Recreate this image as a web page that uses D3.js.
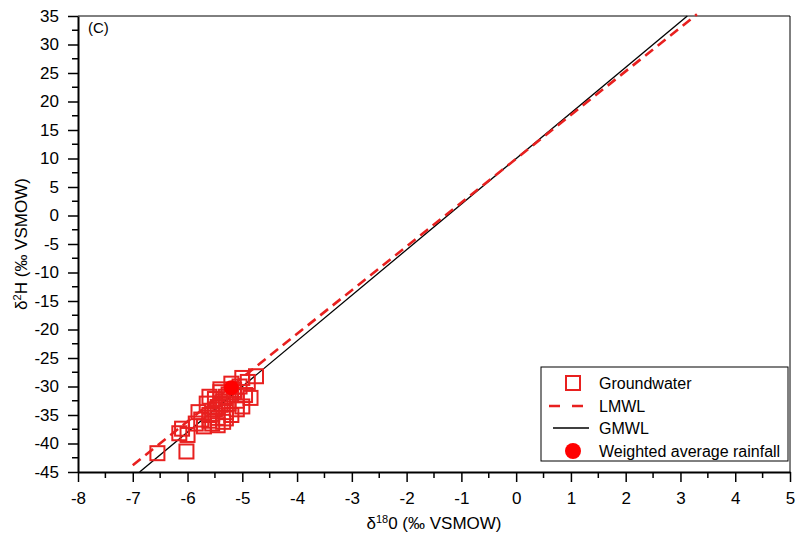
<!DOCTYPE html>
<html>
<head>
<meta charset="utf-8">
<script src="https://cdn.jsdelivr.net/npm/d3@7/dist/d3.min.js"></script>
<style>
  body { margin: 0; background: #fff; }
  text { font-family: "Liberation Sans", Arial, sans-serif; }
</style>
</head>
<body>
<div id="chart"></div>
<script>
// groundwater samples (d18O, d2H)
var gwX = [-6.55, -6.02, -6.15, -6.1, -6.0, -5.85, -5.8, -5.75, -5.7, -5.65, -5.6, -5.55,
           -5.5, -5.5, -5.45, -5.4, -5.4, -5.35, -5.3, -5.3, -5.25, -5.2, -5.15, -5.1,
           -5.05, -5.0, -5.0, -4.95, -4.9, -4.85, -4.75, -5.6, -5.2,
           -5.55, -5.45, -5.35, -5.25, -5.15, -5.45, -5.3, -5.6, -5.1, -5.4];
var gwY = [-41.7, -41.4, -38.2, -37.4, -38.5, -36.5, -34.5, -35.8, -37.0, -33.0, -35.0, -36.5,
           -32.2, -34.0, -35.5, -30.5, -33.2, -36.2, -34.5, -31.8, -33.0, -35.0, -31.0, -32.5,
           -30.0, -33.5, -28.5, -31.5, -29.2, -32.0, -28.2, -36.0, -29.5,
           -34.8, -33.6, -32.6, -31.4, -30.6, -36.8, -35.6, -31.8, -34.0, -31.0];

// weighted average rainfall
var rainX = [-5.2];
var rainY = [-30.2];

// meteoric water lines: [slope, intercept], x extent
var lmwl = [7.68, 9.95];
var lmwlX = [-7, 3.3];
var gmwl = [8, 10];
var gmwlX = [-6.875, 3.125];

var xTicks = [-8, -7, -6, -5, -4, -3, -2, -1, 0, 1, 2, 3, 4, 5];
var yTicks = [35, 30, 25, 20, 15, 10, 5, 0, -5, -10, -15, -20, -25, -30, -35, -40, -45];

var legendLabels = ["Groundwater", "LMWL", "GMWL", "Weighted average rainfall"];

var W = 798, H = 537;
var margin = { top: 16, right: 8, bottom: 65, left: 78 };
var width = W - margin.left - margin.right;
var height = H - margin.top - margin.bottom;

var red = "#e8201f";

var svg = d3.select("#chart").append("svg")
    .attr("width", W)
    .attr("height", H);

var g = svg.append("g")
    .attr("transform", "translate(" + margin.left + "," + margin.top + ")");

var x = d3.scaleLinear().domain([-8, 5]).range([0, width]);
var y = d3.scaleLinear().domain([-45, 35]).range([height, 0]);

// frame top/right
g.append("line").attr("x1", 0).attr("x2", width).attr("y1", 0).attr("y2", 0)
    .attr("stroke", "#000").attr("stroke-width", 1);
g.append("line").attr("x1", width).attr("x2", width).attr("y1", 0).attr("y2", height)
    .attr("stroke", "#000").attr("stroke-width", 1);

// minor ticks
var xMinor = d3.range(-7.5, 5, 1);
var yMinor = d3.range(-42.5, 35, 5);

g.selectAll(".xminor").data(xMinor).enter().append("line")
    .attr("x1", d => x(d)).attr("x2", d => x(d))
    .attr("y1", height).attr("y2", height + 6)
    .attr("stroke", "#000").attr("stroke-width", 1.5);

g.selectAll(".yminor").data(yMinor).enter().append("line")
    .attr("x1", -6).attr("x2", 0)
    .attr("y1", d => y(d)).attr("y2", d => y(d))
    .attr("stroke", "#000").attr("stroke-width", 1.5);

// axes (plain hyphen for negatives)
var fmt = d => String(d);
var xAxis = g.append("g")
    .attr("transform", "translate(0," + height + ")")
    .call(d3.axisBottom(x).tickValues(xTicks).tickFormat(fmt)
        .tickSize(10).tickSizeOuter(0).tickPadding(10));

var yAxis = g.append("g")
    .call(d3.axisLeft(y).tickValues(yTicks).tickFormat(fmt)
        .tickSize(10).tickSizeOuter(0).tickPadding(9));

[xAxis, yAxis].forEach(function(a) {
    a.select(".domain").attr("stroke-width", 2);
    a.selectAll(".tick line").attr("stroke-width", 1.5);
    a.selectAll("text").style("font-size", "17px").attr("fill", "#000")
        .style("font-family", "'Liberation Sans', Arial, sans-serif");
});

// lines
g.append("line")
    .attr("x1", x(gmwlX[0])).attr("y1", y(gmwl[0] * gmwlX[0] + gmwl[1]))
    .attr("x2", x(gmwlX[1])).attr("y2", y(gmwl[0] * gmwlX[1] + gmwl[1]))
    .attr("stroke", "#000").attr("stroke-width", 1.3);

g.append("line")
    .attr("x1", x(lmwlX[0])).attr("y1", y(lmwl[0] * lmwlX[0] + lmwl[1]))
    .attr("x2", x(lmwlX[1])).attr("y2", y(lmwl[0] * lmwlX[1] + lmwl[1]))
    .attr("stroke", red).attr("stroke-width", 2.6)
    .attr("stroke-dasharray", "10,6");

// groundwater squares
var sq = 14;
var gw = gwX.map((d, i) => ({ x: d, y: gwY[i] }));
g.selectAll(".gw").data(gw).enter().append("rect")
    .attr("x", d => x(d.x) - sq / 2)
    .attr("y", d => y(d.y) - sq / 2)
    .attr("width", sq).attr("height", sq)
    .attr("fill", "none")
    .attr("stroke", red).attr("stroke-width", 2);

// rainfall point
g.selectAll(".rain").data(rainX).enter().append("circle")
    .attr("cx", d => x(d))
    .attr("cy", (d, i) => y(rainY[i]))
    .attr("r", 7.5)
    .attr("fill", "#ff0000");

// panel label
g.append("text").attr("x", 10).attr("y", 17)
    .style("font-size", "15px").text("(C)");

// axis titles
svg.append("text")
    .attr("x", margin.left + width / 2).attr("y", 529)
    .attr("text-anchor", "middle").style("font-size", "17px")
    .html('δ<tspan dy="-6" font-size="11px">18</tspan><tspan dy="6">0 (‰ VSMOW)</tspan>');

svg.append("text")
    .attr("transform", "translate(27," + (margin.top + height / 2) + ") rotate(-90)")
    .attr("text-anchor", "middle").style("font-size", "17px")
    .html('δ<tspan dy="-6" font-size="11px">2</tspan><tspan dy="6">H (‰ VSMOW)</tspan>');

// legend
var lg = svg.append("g").attr("transform", "translate(541,367)");
lg.append("rect").attr("width", 247).attr("height", 94)
    .attr("fill", "#fff").attr("stroke", "#000").attr("stroke-width", 1);

var rowY = [16, 39, 61, 84];
legendLabels.forEach(function(lab, i) {
    var row = lg.append("g").attr("transform", "translate(0," + rowY[i] + ")");
    if (i === 0) {
        row.append("rect").attr("x", 25).attr("y", -7).attr("width", 14).attr("height", 14)
            .attr("fill", "none").attr("stroke", red).attr("stroke-width", 2);
    } else if (i === 1) {
        row.append("line").attr("x1", 8).attr("x2", 42).attr("y1", 0).attr("y2", 0)
            .attr("stroke", red).attr("stroke-width", 2.6).attr("stroke-dasharray", "11,12");
    } else if (i === 2) {
        row.append("line").attr("x1", 12).attr("x2", 48).attr("y1", 0).attr("y2", 0)
            .attr("stroke", "#000").attr("stroke-width", 1.3);
    } else {
        row.append("circle").attr("cx", 32).attr("cy", 0).attr("r", 8).attr("fill", "#ff0000");
    }
    row.append("text").attr("x", 58).attr("y", 6)
        .style("font-size", "16px").text(lab);
});
</script>
</body>
</html>
